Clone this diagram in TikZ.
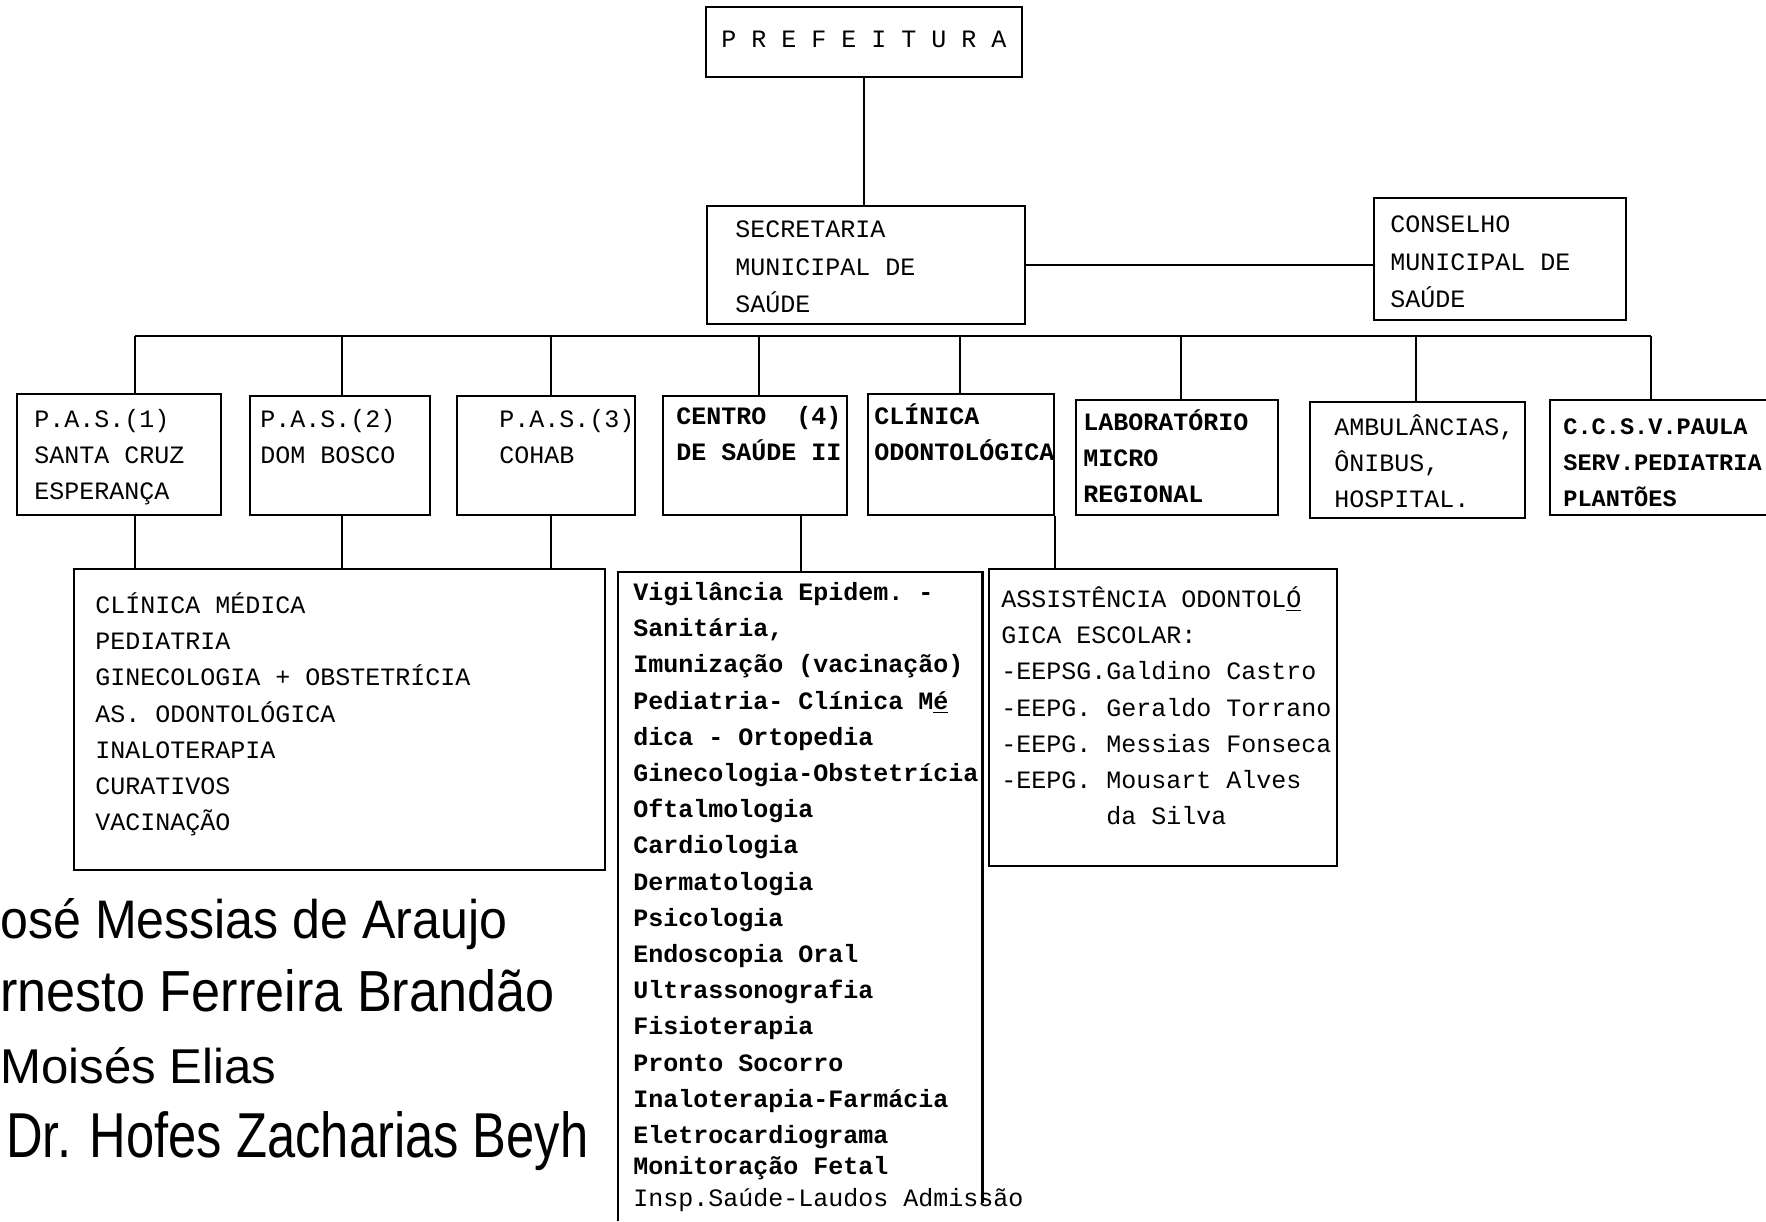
\documentclass[tikz,border=0pt]{standalone}
\usepackage{fontspec}
\usepackage{graphicx}
\setmonofont{Liberation Mono}
\newfontfamily\handfont{Liberation Sans}
\usetikzlibrary{fit}
\newcommand{\firststrut}{\rule{0pt}{12pt}}
\begin{document}
\begin{tikzpicture}[x=0.5pt,y=-0.5pt,
  frame/.style={draw, line width=1.1pt, inner sep=0pt},
  link/.style={line width=1.1pt},
  label/.style={anchor=north west, inner sep=0pt, align=left,
    font=\ttfamily\fontsize{12.5}{18.1}\selectfont},
  boldlabel/.style={label, font=\ttfamily\bfseries\fontsize{12.5}{18.1}\selectfont},
  hand/.style={anchor=base west, inner sep=0pt}]

% page
\path[fill=white, use as bounding box] (0,0) rectangle (1766,1221);

% top levels
\node[frame, fit={(706,7)(1022,77)}] (pref) {};
\node[label] (preft) at (721,23) {\firststrut P R E F E I T U R A};

\node[frame, fit={(707,206)(1025,324)}] (sec) {};
\node[label, font=\ttfamily\fontsize{12.5}{18.8}\selectfont] (sect) at (735,213)
  {\firststrut SECRETARIA\\MUNICIPAL DE\\SAÚDE};

\node[frame, fit={(1374,198)(1626,320)}] (cons) {};
\node[label, font=\ttfamily\fontsize{12.5}{18.8}\selectfont] (const) at (1390,208)
  {\firststrut CONSELHO\\MUNICIPAL DE\\SAÚDE};

% units
\node[frame, fit={(17,394)(221,515)}] (pas1) {};
\node[label] (pas1t) at (34,403) {\firststrut P.A.S.(1)\\SANTA CRUZ\\ESPERANÇA};

\node[frame, fit={(250,396)(430,515)}] (pas2) {};
\node[label] (pas2t) at (260,403) {\firststrut P.A.S.(2)\\DOM BOSCO};

\node[frame, fit={(457,396)(635,515)}] (pas3) {};
\node[label] (pas3t) at (499,403) {\firststrut P.A.S.(3)\\COHAB};

\node[frame, fit={(663,396)(847,515)}] (centro) {};
\node[boldlabel] (centrot) at (676,400) {\firststrut CENTRO\ \ (4)\\DE SAÚDE II};

\node[frame, fit={(868,394)(1054,515)}] (clin) {};
\node[boldlabel] (clint) at (874,400) {\firststrut CLÍNICA\\ODONTOLÓGICA};

\node[frame, fit={(1076,400)(1278,515)}] (lab) {};
\node[boldlabel] (labt) at (1083,406) {\firststrut LABORATÓRIO\\MICRO\\REGIONAL};

\node[frame, fit={(1310,402)(1525,518)}] (amb) {};
\node[label] (ambt) at (1334,411) {\firststrut AMBULÂNCIAS,\\ÔNIBUS,\\HOSPITAL.};

\node[frame, fit={(1550,400)(1800,515)}] (ccsv) {};
\node[boldlabel, font=\ttfamily\bfseries\fontsize{11.8}{18.1}\selectfont] (ccsvt) at (1563,410)
  {\firststrut C.C.S.V.PAULA\\SERV.PEDIATRIA\\PLANTÕES};

% services
\node[frame, fit={(74,569)(605,870)}] (med) {};
\node[label] (medt) at (95,589)
  {\firststrut CLÍNICA MÉDICA\\PEDIATRIA\\GINECOLOGIA + OBSTETRÍCIA\\AS. ODONTOLÓGICA\\INALOTERAPIA\\CURATIVOS\\VACINAÇÃO};

\node[inner sep=0pt, fit={(618,572)(982,1221)}] (vig) {};
\draw[link] (vig.south west) -- (vig.north west) -- (vig.north east) -- ++(0,631);
\node[boldlabel] (vigt) at (633,576)
  {\firststrut Vigilância Epidem. -\\Sanitária,\\Imunização (vacinação)\\Pediatria- Clínica M\underline{é}\\dica - Ortopedia\\Ginecologia-Obstetrícia\\Oftalmologia\\Cardiologia\\Dermatologia\\Psicologia\\Endoscopia Oral\\Ultrassonografia\\Fisioterapia\\Pronto Socorro\\Inaloterapia-Farmácia\\Eletrocardiograma\\[-2.5pt]Monitoração Fetal\\[-2pt]{\mdseries Insp.Saúde-Laudos Admissão}};

\node[frame, fit={(989,569)(1337,866)}] (ass) {};
\node[label] (asst) at (1001,583)
  {\firststrut ASSISTÊNCIA ODONTOL\underline{Ó}\\GICA ESCOLAR:\\-EEPSG.Galdino Castro\\-EEPG. Geraldo Torrano\\-EEPG. Messias Fonseca\\-EEPG. Mousart Alves\\\hspace*{4.2em}da Silva};

% connectors
\draw[link] (pref.south) -- (pref.south |- sec.north);
\draw[link] (sec.east) -- (sec.east -| cons.west);

\coordinate (bus1) at (135,336);
\coordinate (bus2) at (342,336);
\coordinate (bus3) at (551,336);
\coordinate (bus4) at (759,336);
\coordinate (bus5) at (960,336);
\coordinate (bus6) at (1181,336);
\coordinate (bus7) at (1416,336);
\coordinate (bus8) at (1651,336);
\draw[link] (bus1) -- (bus8);
\draw[link] (bus1) -- (bus1 |- pas1.north);
\draw[link] (bus2) -- (bus2 |- pas2.north);
\draw[link] (bus3) -- (bus3 |- pas3.north);
\draw[link] (bus4) -- (bus4 |- centro.north);
\draw[link] (bus5) -- (bus5 |- clin.north);
\draw[link] (bus6) -- (bus6 |- lab.north);
\draw[link] (bus7) -- (bus7 |- amb.north);
\draw[link] (bus8) -- (bus8 |- ccsv.north);

\draw[link] (bus1 |- pas1.south) -- (bus1 |- med.north);
\draw[link] (bus2 |- pas2.south) -- (bus2 |- med.north);
\draw[link] (bus3 |- pas3.south) -- (bus3 |- med.north);
\coordinate (cdrop) at (801,515);
\draw[link] (cdrop |- centro.south) -- (cdrop |- vig.north);
\draw[link] (clin.south east) -- (clin.south east |- ass.north);

% signatures
\node[hand] (name1) at (0,938) {\resizebox{253.5pt}{20pt}{\handfont osé Messias de Araujo}};
\node[hand] (name2) at (0,1011) {\resizebox{277pt}{21pt}{\handfont rnesto Ferreira Brandão}};
\node[hand] (name3) at (0,1083) {\resizebox{138pt}{18pt}{\handfont Moisés Elias}};
\node[hand] (name4) at (6,1157) {\resizebox{291pt}{23pt}{\handfont Dr. Hofes Zacharias Beyh}};
\end{tikzpicture}
\end{document}
